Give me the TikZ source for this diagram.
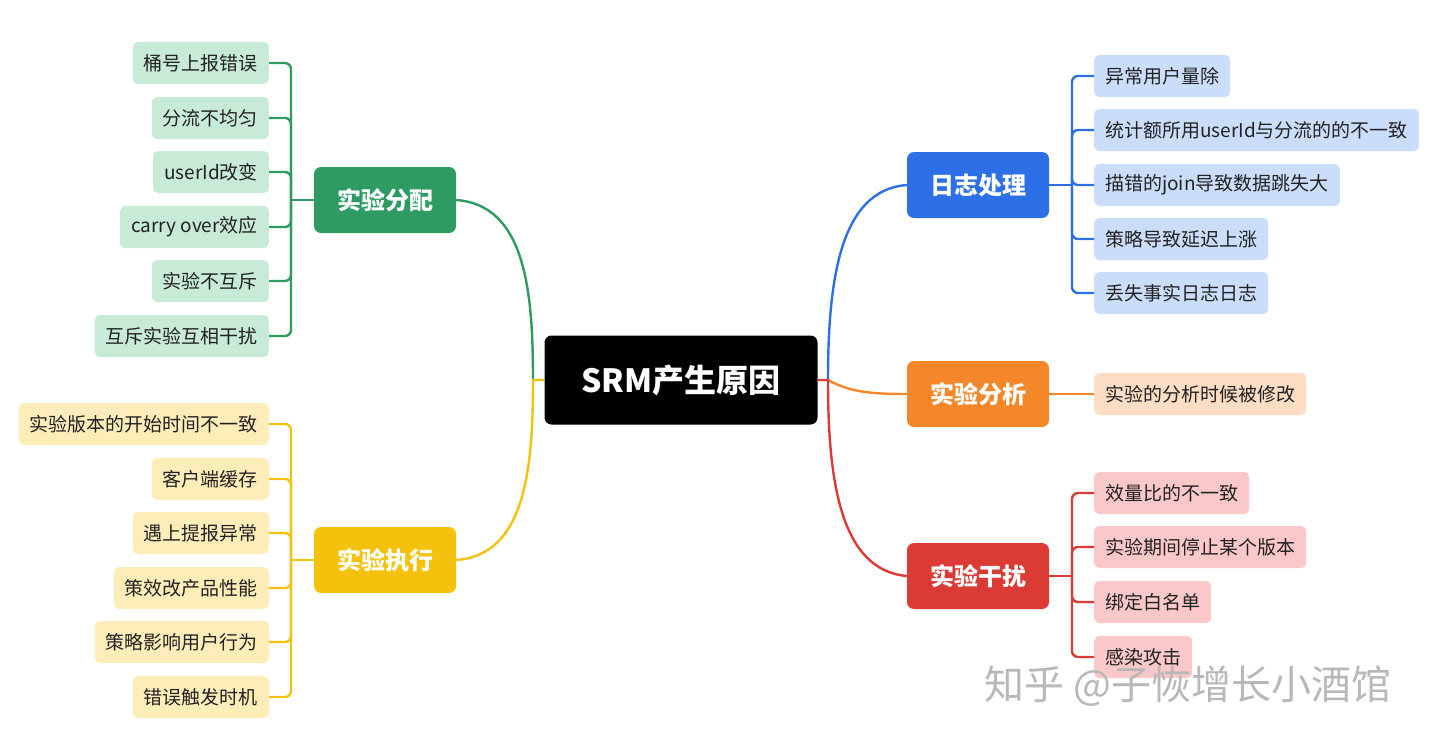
\documentclass[tikz,border=0pt]{standalone}
\usepackage{fontspec}
\setmainfont{Noto Sans CJK SC}
\definecolor{gmain}{HTML}{2E9C62}
\definecolor{gleaf}{HTML}{C8EBD8}
\definecolor{ymain}{HTML}{F4C20D}
\definecolor{yleaf}{HTML}{FDEDB8}
\definecolor{bmain}{HTML}{2D6FE6}
\definecolor{bleaf}{HTML}{CADEFB}
\definecolor{omain}{HTML}{F5872B}
\definecolor{oleaf}{HTML}{FDDDC3}
\definecolor{rmain}{HTML}{DB3A35}
\definecolor{rleaf}{HTML}{FAC8C8}
\definecolor{leaftext}{HTML}{222222}
\begin{document}
\begin{tikzpicture}[x=1pt,y=-1pt,
  leaf/.style={rounded corners=5pt, minimum height=42pt, inner xsep=11pt, inner ysep=0pt,
    font=\fontsize{19}{21}\selectfont, text=leaftext},
  mainbox/.style={rounded corners=7pt, minimum width=142pt, minimum height=66pt, inner sep=0pt,
    font=\fontsize{24}{26}\selectfont\bfseries, text=white},
  link/.style={line width=2.4pt, rounded corners=6pt},
  curve/.style={line width=2.4pt}
]
\useasboundingbox (0,0) rectangle (1440,742);

% central
\node[rounded corners=7pt, fill=black, minimum width=273pt, minimum height=89pt, inner sep=0pt,
  font=\fontsize{32}{34}\selectfont\bfseries, text=white] (C) at (681,380) {SRM产生原因};
\coordinate (cl) at (533,380);
\coordinate (cr) at (828,380);

% main nodes
\node[mainbox, fill=gmain] (G) at (385,200) {实验分配};
\node[mainbox, fill=ymain] (Y) at (385,560) {实验执行};
\node[mainbox, fill=bmain] (B) at (978,185) {日志处理};
\node[mainbox, fill=omain] (O) at (978,394) {实验分析};
\node[mainbox, fill=rmain] (R) at (978,576) {实验干扰};

% green leaves
\node[leaf, fill=gleaf, anchor=east] (g1) at (269,63) {桶号上报错误};
\node[leaf, fill=gleaf, anchor=east] (g2) at (269,118) {分流不均匀};
\node[leaf, fill=gleaf, anchor=east] (g3) at (269,172) {userId改变};
\node[leaf, fill=gleaf, anchor=east] (g4) at (269,227) {carry over效应};
\node[leaf, fill=gleaf, anchor=east] (g5) at (269,281) {实验不互斥};
\node[leaf, fill=gleaf, anchor=east] (g6) at (269,336) {互斥实验互相干扰};
\coordinate (gb) at (291,200);

% yellow leaves
\node[leaf, fill=yleaf, anchor=east] (y1) at (269,424) {实验版本的开始时间不一致};
\node[leaf, fill=yleaf, anchor=east] (y2) at (269,479) {客户端缓存};
\node[leaf, fill=yleaf, anchor=east] (y3) at (269,533) {遇上提报异常};
\node[leaf, fill=yleaf, anchor=east] (y4) at (269,588) {策效改产品性能};
\node[leaf, fill=yleaf, anchor=east] (y5) at (269,642) {策略影响用户行为};
\node[leaf, fill=yleaf, anchor=east] (y6) at (269,697) {错误触发时机};
\coordinate (yb) at (291,560);

% blue leaves
\node[leaf, fill=bleaf, anchor=west] (b1) at (1094,76) {异常用户量除};
\node[leaf, fill=bleaf, anchor=west] (b2) at (1094,130) {统计额所用userId与分流的的不一致};
\node[leaf, fill=bleaf, anchor=west] (b3) at (1094,185) {描错的join导致数据跳失大};
\node[leaf, fill=bleaf, anchor=west] (b4) at (1094,239) {策略导致延迟上涨};
\node[leaf, fill=bleaf, anchor=west] (b5) at (1094,293) {丢失事实日志日志};
\coordinate (bb) at (1072,185);

% orange leaf
\node[leaf, fill=oleaf, anchor=west] (o1) at (1094,394) {实验的分析时候被修改};

% red leaves
\node[leaf, fill=rleaf, anchor=west] (r1) at (1094,493) {效量比的不一致};
\node[leaf, fill=rleaf, anchor=west] (r2) at (1094,547) {实验期间停止某个版本};
\node[leaf, fill=rleaf, anchor=west] (r3) at (1094,602) {绑定白名单};
\node[leaf, fill=rleaf, anchor=west] (r4) at (1094,657) {感染攻击};
\coordinate (rb) at (1072,576);

% brackets
\foreach \i in {1,...,6} {
  \draw[link, gmain] (g\i.east) -| (gb);
  \draw[link, ymain] (y\i.east) -| (yb);
}
\foreach \i in {1,...,5} {
  \draw[link, bmain] (b\i.west) -| (bb);
}
\foreach \i in {1,...,4} {
  \draw[link, rmain] (r\i.west) -| (rb);
}
\draw[link, gmain] (gb) -- (G.west);
\draw[link, ymain] (yb) -- (Y.west);
\draw[link, bmain] (bb) -- (B.east);
\draw[link, rmain] (rb) -- (R.east);
\draw[link, omain] (O.east) -- (o1.west);

% central curves
\draw[curve, gmain] (cl) .. controls (533,290) and (525,205) .. (G.east);
\draw[curve, ymain] (C.west) -- (cl) .. controls (533,470) and (525,555) .. (Y.east);
\draw[curve, bmain] (cr) .. controls (828,280) and (840,190) .. (B.west);
\draw[curve, omain] (cr) .. controls (850,392) and (870,394) .. (O.west);
\draw[curve, rmain] (C.east) -- (cr) .. controls (828,480) and (840,570) .. (R.west);

% watermark
\node[font=\fontsize{40}{42}\selectfont, text=black!28, inner sep=0pt] (wm) at (1188,686) {知乎 @子恢增长小酒馆};
\end{tikzpicture}
\end{document}
